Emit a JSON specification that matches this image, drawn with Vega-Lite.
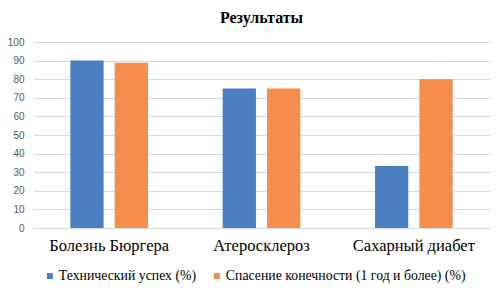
{
  "$schema": "https://vega.github.io/schema/vega-lite/v6.json",
  "width": 457,
  "height": 186,
  "autosize": {"type": "none"},
  "padding": {"left": 33, "top": 42, "right": 13, "bottom": 66},
  "background": "white",
  "title": {
    "text": "Результаты",
    "offset": 11
  },
  "data": {
    "values": [
      {"category": "Болезнь Бюргера", "series": "Технический успех (%)", "value": 90},
      {"category": "Болезнь Бюргера", "series": "Спасение конечности (1 год и более) (%)", "value": 88.8},
      {"category": "Атеросклероз", "series": "Технический успех (%)", "value": 75},
      {"category": "Атеросклероз", "series": "Спасение конечности (1 год и более) (%)", "value": 75},
      {"category": "Сахарный диабет", "series": "Технический успех (%)", "value": 33.3},
      {"category": "Сахарный диабет", "series": "Спасение конечности (1 год и более) (%)", "value": 80}
    ]
  },
  "mark": {"type": "bar"},
  "encoding": {
    "x": {
      "field": "category",
      "type": "nominal",
      "sort": ["Болезнь Бюргера", "Атеросклероз", "Сахарный диабет"],
      "scale": {"paddingInner": 0.49, "paddingOuter": 0.245},
      "axis": {
        "title": null,
        "labelAngle": 0,
        "labelFont": "Liberation Serif",
        "labelFontSize": 16.5,
        "labelColor": "#000000",
        "labelPadding": 9,
        "labelLimit": 0,
        "ticks": false,
        "domainColor": "#d9d9d9",
        "grid": false
      }
    },
    "xOffset": {
      "field": "series",
      "type": "nominal",
      "sort": ["Технический успех (%)", "Спасение конечности (1 год и более) (%)"],
      "scale": {"paddingInner": 0.25, "paddingOuter": 0}
    },
    "y": {
      "field": "value",
      "type": "quantitative",
      "scale": {"domain": [0, 100]},
      "axis": {
        "title": null,
        "values": [0, 10, 20, 30, 40, 50, 60, 70, 80, 90, 100],
        "labelFont": "Liberation Sans",
        "labelFontSize": 10,
        "labelColor": "#595959",
        "labelPadding": 9,
        "ticks": false,
        "domain": false,
        "gridColor": "#d9d9d9",
        "gridWidth": 1
      }
    },
    "color": {
      "field": "series",
      "type": "nominal",
      "sort": ["Технический успех (%)", "Спасение конечности (1 год и более) (%)"],
      "scale": {"range": ["#4a7fc1", "#f58e4b"]},
      "legend": {
        "title": null,
        "orient": "none",
        "direction": "horizontal",
        "legendX": 10,
        "legendY": 227,
        "symbolType": "square",
        "symbolSize": 36,
        "symbolStrokeWidth": 0,
        "labelOffset": 2,
        "columnPadding": 13
      }
    }
  },
  "config": {
    "view": {"stroke": null},
    "title": {
      "font": "Liberation Serif",
      "fontSize": 16,
      "fontWeight": "bold",
      "color": "#000000",
      "anchor": "middle",
      "frame": "group"
    },
    "legend": {
      "labelFont": "Liberation Serif",
      "labelFontSize": 13.8,
      "labelColor": "#000000",
      "labelLimit": 0
    }
  }
}
